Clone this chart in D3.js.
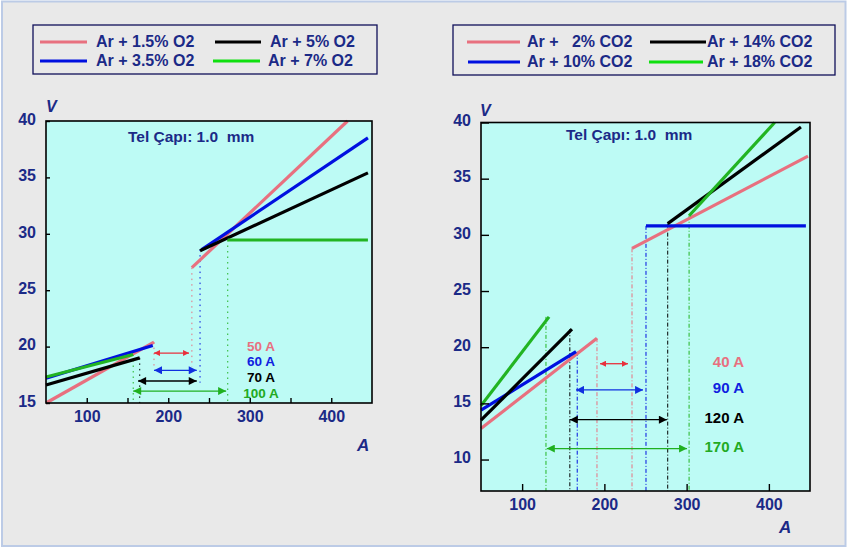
<!DOCTYPE html>
<html><head><meta charset="utf-8">
<script src="https://cdn.jsdelivr.net/npm/d3@7"></script>
<style>
body{margin:0;background:#fff}
text{font-family:"Liberation Sans",Arial,sans-serif;font-weight:bold;white-space:pre}
</style>
</head><body><script>
// ---------- DATA ----------
const xTicksL = [100,150,200,250,300,350,400];
const yTicksL = [15,20,25,30,35,40];
const xTicksR = [100,200,300,400];
const yTicksR = [10,15,20,25,30,35,40];

const seriesL = ["Ar + 1.5% O2","Ar + 3.5% O2","Ar + 5% O2","Ar + 7% O2"];
const lowStartL = [[50,15.0],[50,17.2],[50,16.6],[50,17.3]];
const lowEndL   = [[182.5,20.4],[181,20.1],[165,19.0],[157,19.3]];
const highStartL= [[229,27.0],[241,28.6],[239,28.5],[273,29.45]];
const highEndL  = [[420,40],[445,38.5],[445,35.4],[445,29.45]];

const seriesR = ["Ar +   2% CO2","Ar + 10% CO2","Ar + 14% CO2","Ar + 18% CO2"];
const lowStartR = [[50,12.76],[50,14.4],[50,13.5],[50,14.8]];
const lowEndR   = [[191,20.8],[165.5,19.6],[160.6,21.6],[132.7,22.7]];
const highStartR= [[233.6,28.8],[250.6,30.8],[277,31.0],[303,31.7]];
const highEndR  = [[447.6,37.0],[445,30.8],[439,39.6],[407,40]];

// transition arrows: from A, to A, level V, label
const arrowFromL = [182.5,182.5,163,157];
const arrowToL   = [225.5,235,235,271];
const arrowVL    = [19.43,17.9,16.95,16.06];
const arrowLabL  = ["50 A","60 A","70 A","100 A"];

const arrowFromR = [194.7,165.5,158,130];
const arrowToR   = [228.7,247,276,300.5];
const arrowVR    = [18.53,16.2,13.55,10.98];
const arrowLabR  = ["40 A","90 A","120 A","170 A"];

// guide lines: A, top V, bottom V, series index
const guideAL   = [229,239,273,182.5,165,157];
const guideTopL = [27.0,28.6,29.45,20.4,19.0,19.3];
const guideBotL = [18.2,16.8,15,18.2,15,15];
const guideSerL = [0,1,3,0,2,3];

const guideAR   = [129,158,167,191,233.6,250.6,277,303];
const guideTopR = [22.7,21.6,19.6,20.8,28.8,30.8,31.0,31.7];
const guideSerR = [3,2,1,0,0,1,2,3];

const subtitle = "Tel Çapı: 1.0  mm";

// ---------- STYLE ----------
const navy = "#1b2a87";
const lineCol = ["#e8707f","#0010e0","#000000","#22b422"];
const legCol  = ["#e8707f","#0010e0","#000000","#10e010"];
const arrowCol= ["#e8303c","#1030e0","#000000","#20b020"];
const labCol  = ["#e8707f","#1020e0","#000000","#22aa22"];
const plotFill = "#bdfbf5";

const svg = d3.select("body").append("svg").attr("width",848).attr("height",549);
svg.append("rect").attr("x",0).attr("y",0).attr("width",848).attr("height",549).attr("fill","#fff");
svg.append("rect").attr("x",2).attr("y",1.5).attr("width",843.5).attr("height",544.5)
  .attr("fill","#e9e9e9").attr("stroke","#bccbe6").attr("stroke-width",2);

// markers
const defs = svg.append("defs");
arrowCol.forEach((c,i)=>{
  const small = i===0;
  defs.append("marker").attr("id","ah"+i)
    .attr("viewBox","0 0 10 10").attr("refX",10).attr("refY",5)
    .attr("markerUnits","userSpaceOnUse")
    .attr("markerWidth", small?9:11).attr("markerHeight", small?6:8)
    .attr("orient","auto-start-reverse")
    .append("path").attr("d","M0,0L10,5L0,10z").attr("fill",c);
});

function panel(cfg){
  const {x,y,xTicks,yTicks,ticksX,ticksY,lowS,lowE,highS,highE,
    aFrom,aTo,aV,aLab,labX,labY,labAnchor,labSize,guideA,guideTop,guideBot,guideSer,guideDash,
    series,legend,titlePos,vPos,aPos} = cfg;
  const g = svg.append("g");
  const [x0,x1] = x.range(), [y0,y1] = y.range();
  g.append("rect").attr("x",x0).attr("y",y1).attr("width",x1-x0).attr("height",y0-y1)
    .attr("fill",plotFill);

  // guides
  guideA.forEach((a,i)=>{
    g.append("line").attr("x1",x(a)).attr("x2",x(a))
      .attr("y1",y(guideTop[i])).attr("y2",y(guideBot[i]))
      .attr("stroke",lineCol[guideSer[i]]).attr("stroke-width",1)
      .attr("stroke-dasharray",guideDash);
  });

  // data lines
  const line = d3.line().x(d=>x(d[0])).y(d=>y(d[1]));
  for(let i=0;i<4;i++){
    g.append("path").attr("d",line([lowS[i],lowE[i]])).attr("stroke",lineCol[i])
      .attr("stroke-width",3.2).attr("fill","none");
    g.append("path").attr("d",line([highS[i],highE[i]])).attr("stroke",lineCol[i])
      .attr("stroke-width",3.2).attr("fill","none");
  }

  // arrows
  aFrom.forEach((a,i)=>{
    g.append("line").attr("x1",x(a)).attr("x2",x(aTo[i]))
      .attr("y1",y(aV[i])).attr("y2",y(aV[i]))
      .attr("stroke",arrowCol[i]).attr("stroke-width",1.3)
      .attr("marker-start",`url(#ah${i})`).attr("marker-end",`url(#ah${i})`);
    g.append("text").attr("x",labX).attr("y",labY[i]).attr("dy","0.36em")
      .attr("text-anchor",labAnchor).attr("font-size",labSize).attr("fill",labCol[i]).text(aLab[i]);
  });

  // frame
  g.append("rect").attr("x",x0).attr("y",y1).attr("width",x1-x0).attr("height",y0-y1)
    .attr("fill","none").attr("stroke","#000").attr("stroke-width",1.6);

  // axes
  const ax = g.append("g").attr("transform",`translate(0,${y0})`)
    .call(d3.axisBottom(x).tickValues(xTicks).tickSize(-ticksX).tickPadding(8)
      .tickFormat(d=> d%100===0 ? d : ""));
  const ay = g.append("g").attr("transform",`translate(${x0},0)`)
    .call(d3.axisLeft(y).tickValues(yTicks).tickSize(-ticksY).tickPadding(10));
  [ax,ay].forEach(a=>{
    a.select(".domain").remove();
    a.selectAll(".tick line").attr("stroke","#000").attr("stroke-width",1.4);
    a.selectAll(".tick text").attr("fill",navy).attr("font-size",16)
      .attr("font-family",'"Liberation Sans",Arial,sans-serif').attr("font-weight","bold");
  });
  ay.selectAll(".tick text").attr("dy","0.2em");

  // titles
  g.append("text").attr("x",titlePos[0]).attr("y",titlePos[1]).attr("font-size",15.5)
    .attr("fill",navy).text(subtitle);
  g.append("text").attr("x",vPos[0]).attr("y",vPos[1]).attr("font-size",16)
    .attr("font-style","italic").attr("fill",navy).text("V");
  g.append("text").attr("x",aPos[0]).attr("y",aPos[1]).attr("font-size",17)
    .attr("font-style","italic").attr("fill",navy).text("A");

  // legend
  const L = legend;
  g.append("rect").attr("x",L.x).attr("y",L.y).attr("width",L.w).attr("height",L.h)
    .attr("fill","#e9e9e9").attr("stroke","#10105a").attr("stroke-width",1.3);
  series.forEach((s,i)=>{
    const p = L.items[i];
    g.append("line").attr("x1",p[0]).attr("x2",p[1]).attr("y1",p[2]).attr("y2",p[2])
      .attr("stroke",legCol[i]).attr("stroke-width",3);
    g.append("text").attr("x",p[3]).attr("y",p[2]).attr("dy","0.3em").attr("font-size",16)
      .attr("fill",navy).text(s);
  });
}

panel({
  x: d3.scaleLinear().domain([50,450]).range([46,372]),
  y: d3.scaleLinear().domain([15,40]).range([403,121]),
  xTicks:xTicksL, yTicks:yTicksL, ticksX:5, ticksY:4,
  lowS:lowStartL, lowE:lowEndL, highS:highStartL, highE:highEndL,
  aFrom:arrowFromL, aTo:arrowToL, aV:arrowVL, aLab:arrowLabL,
  labX:261, labY:[346,361.6,377.2,392.8], labAnchor:"middle", labSize:13.5,
  guideA:guideAL, guideTop:guideTopL, guideBot:guideBotL, guideSer:guideSerL, guideDash:"1.5,4",
  series:seriesL,
  legend:{x:33,y:25,w:344,h:49,items:[[40,87,42,96],[40,87,61,96],[215,261,42,270],[213,260,61,268]]},
  titlePos:[128,142], vPos:[46,112], aPos:[357,451]
});

panel({
  x: d3.scaleLinear().domain([50,450]).range([481,810]),
  y: d3.scaleLinear().domain([7.2,40]).range([491,122.5]),
  xTicks:xTicksR, yTicks:yTicksR, ticksX:7, ticksY:8,
  lowS:lowStartR, lowE:lowEndR, highS:highStartR, highE:highEndR,
  aFrom:arrowFromR, aTo:arrowToR, aV:arrowVR, aLab:arrowLabR,
  labX:744, labY:[362,388,418,447], labAnchor:"end", labSize:15,
  guideA:guideAR, guideTop:guideTopR, guideBot:guideAR.map(()=>7.2), guideSer:guideSerR, guideDash:"4,2,1,2",
  series:seriesR,
  legend:{x:453,y:25,w:382,h:50,items:[[467,520,42,527],[468,520,62,527],[650,706,42,707],[649,703,62,707]]},
  titlePos:[566,140], vPos:[480,116], aPos:[779,533]
});
</script></body></html>
